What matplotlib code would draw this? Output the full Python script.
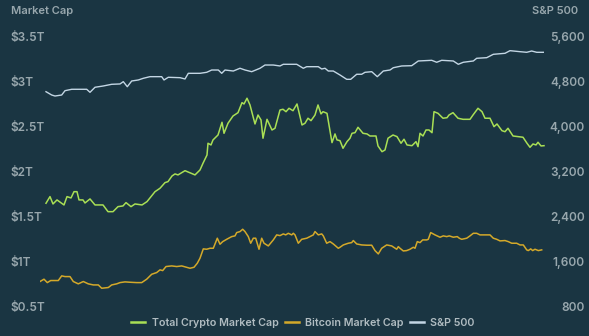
import matplotlib
matplotlib.use("Agg")
import matplotlib.pyplot as plt
from matplotlib.ticker import FixedLocator, FuncFormatter

# ---- data ----
crypto_days = [0,4,7,11,18,21,25,28,31,33,37,39,44,49,57,62,67,72,77,80,85,89,96,101,109,114,119,122,126,129,132,139,149,154,157,161,162,165,167,172,176,178,182,187,192,196,198,201,204,209,212,215,217,221,226,229,234,237,240,243,247,251,256,259,262,265,269,272,275,277,281,286,289,291,294,297,301,304,306,309,312,317,321,324,330,332,336,339,342,347,351,355,358,361,366,370,372,374,377,380,383,386,388,392,397,401,403,407,412,417,424,427,432,436,439,444,448,451,456,459,462,467,472,477,481,484,487,490,492,495,498]
crypto_cap = [1.646,1.72,1.638,1.683,1.627,1.72,1.705,1.775,1.775,1.683,1.683,1.649,1.694,1.627,1.627,1.552,1.552,1.608,1.616,1.653,1.608,1.638,1.627,1.664,1.775,1.813,1.876,1.887,1.95,1.973,1.962,2.009,1.962,2.017,2.092,2.184,2.315,2.296,2.352,2.407,2.549,2.426,2.538,2.619,2.656,2.768,2.753,2.817,2.742,2.53,2.63,2.575,2.371,2.582,2.463,2.482,2.686,2.694,2.667,2.705,2.678,2.753,2.519,2.538,2.594,2.567,2.63,2.742,2.642,2.667,2.649,2.322,2.419,2.352,2.344,2.259,2.333,2.371,2.426,2.433,2.493,2.426,2.419,2.396,2.396,2.285,2.221,2.24,2.371,2.407,2.389,2.315,2.36,2.296,2.288,2.333,2.277,2.426,2.396,2.463,2.463,2.433,2.667,2.649,2.594,2.6,2.63,2.656,2.594,2.582,2.582,2.63,2.705,2.667,2.594,2.594,2.5,2.53,2.455,2.444,2.482,2.396,2.389,2.382,2.315,2.27,2.307,2.296,2.326,2.285,2.288]

btc_days = [-6,-2,1.3,4.7,12.3,15.7,19,24,27.3,32.3,37.3,42.3,47.3,52.3,55.7,62.3,65.7,70.7,74,79,84,90.7,95.7,100.7,105.7,110.7,114,116.7,120,125.7,130.7,135.7,140.7,144,148,151.3,154,157.3,160.7,164,167.3,171.3,174,176.7,180.7,185.7,189,190.7,194,196.7,199,202.3,204.7,207.3,209.7,213,215.7,218,222.3,227.3,230.7,234,237.3,239.7,242.3,245.7,247.3,249,252.3,255.7,260.7,264,267.3,269,272.3,275.7,277.3,280.7,284,287.3,292.3,294,297.3,302.3,305.7,307.3,310.7,315.7,320.7,325.7,329,332.3,335.7,340.7,345.7,350.7,352.3,354,357.3,360.7,364,367.3,369,371.3,374,376.7,380.7,382.3,384.7,389,394,397.3,400.7,403.3,407.3,411.3,413.3,415.7,420.7,424,427.3,430.7,434,440.7,444,447.3,450.7,454,459,462.3,465.7,470.7,474,477.3,480.7,482.3,484.7,486.7,489,492.3,495.7]
btc_cap = [0.773,0.799,0.761,0.784,0.784,0.836,0.828,0.828,0.773,0.747,0.773,0.747,0.735,0.735,0.698,0.706,0.735,0.747,0.761,0.769,0.765,0.761,0.761,0.799,0.854,0.873,0.903,0.895,0.94,0.947,0.94,0.947,0.932,0.921,0.932,0.977,1.033,1.137,1.133,1.144,1.144,1.256,1.189,1.218,1.244,1.274,1.282,1.319,1.33,1.356,1.33,1.274,1.2,1.256,1.256,1.133,1.256,1.2,1.17,1.237,1.293,1.285,1.304,1.293,1.311,1.293,1.311,1.293,1.2,1.244,1.256,1.274,1.293,1.33,1.293,1.304,1.282,1.2,1.218,1.192,1.144,1.155,1.181,1.2,1.207,1.23,1.192,1.181,1.178,1.178,1.118,1.081,1.144,1.181,1.17,1.133,1.162,1.144,1.114,1.118,1.133,1.155,1.144,1.218,1.207,1.237,1.237,1.244,1.319,1.293,1.267,1.282,1.274,1.282,1.267,1.274,1.256,1.244,1.256,1.282,1.311,1.311,1.293,1.293,1.293,1.256,1.244,1.226,1.23,1.218,1.2,1.2,1.181,1.181,1.126,1.118,1.137,1.118,1.133,1.118,1.126]

sp_days = [0,5.7,9,15.7,19,25.7,40.7,44,49,57.3,65.7,74,77.3,81.3,85.7,92.3,97.3,104,115.7,118,122.3,134,139,142.3,154,160.7,165.7,172.3,175.7,179,187.3,194,199,205.7,214,219,227.3,234,237.3,250.7,257.3,260.7,272.3,275.7,279,282.3,287.3,294,300.7,304.7,310.7,315.7,319,325.7,331.3,337.3,344,347.3,355.7,365.7,372.3,385.7,390.7,395.7,407.3,412.3,417.3,427.3,430.7,440.7,447.3,459,464,474,480.7,485.7,490.7,497.3]
sp500 = [4624,4565,4547,4565,4642,4667,4667,4613,4703,4726,4756,4762,4803,4713,4815,4833,4863,4892,4892,4833,4881,4874,4851,4952,4952,4970,5011,5011,4952,5011,4993,5042,5011,4981,5042,5100,5100,5083,5113,5113,5042,5070,5070,5029,5042,4993,4993,4922,4845,4845,4935,4935,4970,4981,4892,4993,5011,5052,5083,5088,5172,5184,5149,5184,5172,5113,5149,5172,5220,5231,5291,5309,5356,5338,5327,5350,5327,5327]

left_ticks = [0.5, 1.0, 1.5, 2.0, 2.5, 3.0, 3.5]
left_labels = ["$0.5T", "$1T", "$1.5T", "$2T", "$2.5T", "$3T", "$3.5T"]
right_ticks = [800, 1600, 2400, 3200, 4000, 4800, 5600]

# ---- style ----
BG = "#1a3542"
TXT = "#98a7ad"
LEG = "#b0bcc1"
C_CRYPTO = "#a9df55"
C_BTC = "#d4a92a"
C_SP = "#c3d6e4"
FONT = ["Inter", "DejaVu Sans"]
plt.rcParams["font.family"] = FONT

W, H = 589, 336
fig = plt.figure(figsize=(W / 100, H / 100), dpi=100, facecolor=BG)
x0, x1 = 40, 545
ytop, ybot = 30, 312
ax = fig.add_axes([x0 / W, 1 - ybot / H, (x1 - x0) / W, (ybot - ytop) / H])
ax.set_facecolor(BG)
ax2 = ax.twinx()

ax.plot(crypto_days, crypto_cap, color=C_CRYPTO, lw=1.1, label="Total Crypto Market Cap")
ax.plot(btc_days, btc_cap, color=C_BTC, lw=1.1, label="Bitcoin Market Cap")
ax2.plot(sp_days, sp500, color=C_SP, lw=1.0, label="S&P 500")

ax.set_xlim(-6, 499)
px_left = 0.5 / 44.85
ax.set_ylim(0.5 - (ybot - 306) * px_left, 3.5 + (37 - ytop) * px_left)
px_right = 800 / 44.85
ax2.set_ylim(800 - (ybot - 306) * px_right, 5600 + (37 - ytop) * px_right)

for a in (ax, ax2):
    for s in a.spines.values():
        s.set_visible(False)
    a.set_xticks([])
    a.tick_params(length=0)

ax.yaxis.set_major_locator(FixedLocator(left_ticks))
ax.set_yticklabels(left_labels)
ax.tick_params(axis="y", pad=(x0 - 10) * 0.72, labelsize=8.5, labelcolor=TXT)
for t in ax.get_yticklabels():
    t.set_horizontalalignment("left")
    t.set_fontweight("semibold")

ax2.yaxis.set_major_locator(FixedLocator(right_ticks))
ax2.yaxis.set_major_formatter(FuncFormatter(lambda v, p: f"{int(v):,}"))
ax2.tick_params(axis="y", pad=(585 - x1) * 0.72, labelsize=8.5, labelcolor=TXT)
for t in ax2.get_yticklabels():
    t.set_horizontalalignment("right")
    t.set_fontweight("semibold")

fig.text(11 / W, 1 - 11 / H, "Market Cap", color=TXT, fontsize=8, fontweight="semibold",
         ha="left", va="center")
fig.text(578 / W, 1 - 11 / H, "S&P 500", color=TXT, fontsize=8, fontweight="semibold",
         ha="right", va="center")

h1, l1 = ax.get_legend_handles_labels()
h2, l2 = ax2.get_legend_handles_labels()
leg = fig.legend(h1 + h2, l1 + l2, loc="center", bbox_to_anchor=(303 / W, 1 - 323 / H),
                 ncol=3, frameon=False, fontsize=7.7, handlelength=1.3, handletextpad=0.6,
                 columnspacing=0.6, borderpad=0)
for t in leg.get_texts():
    t.set_color(LEG)
    t.set_fontweight("semibold")
for l in leg.get_lines():
    l.set_linewidth(1.8)

fig.savefig("out.png", dpi=100, facecolor=BG)
